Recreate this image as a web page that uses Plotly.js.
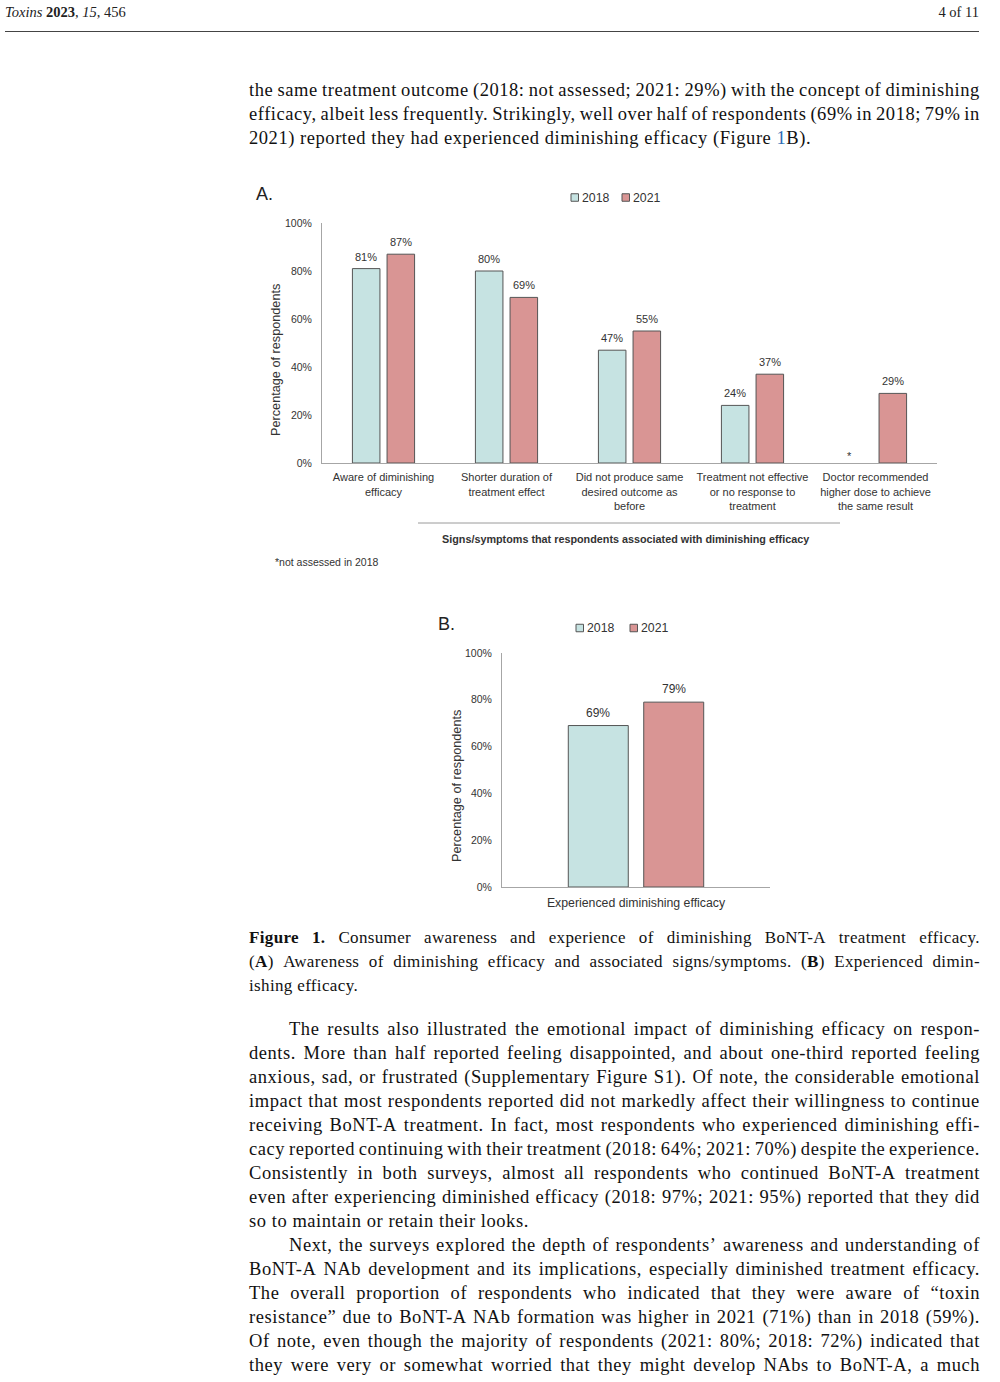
<!DOCTYPE html>
<html><head><meta charset="utf-8">
<script src="https://cdn.plot.ly/plotly-3.0.1.min.js"></script>
<style>
html,body{margin:0;padding:0;width:1000px;height:1382px;overflow:hidden;background:#fff;}
#chart{position:absolute;left:0;top:0;width:1000px;height:1382px;}
.ln{position:absolute;height:24px;line-height:24px;font-family:'Liberation Serif','Times New Roman',serif;font-size:18.5px;letter-spacing:0.55px;color:#111;white-space:nowrap;}
.cap{font-size:17px;letter-spacing:0.35px;}
.j{display:flex;justify-content:space-between;}
.blue{color:#2f6db5;}
.hdr{position:absolute;top:2px;height:20px;line-height:20px;font-family:'Liberation Serif','Times New Roman',serif;font-size:14.5px;color:#222;white-space:nowrap;}
.rule{position:absolute;left:5px;top:31px;width:974px;height:1.3px;background:#444;}
</style></head><body>
<div id="chart"></div>
<div class="hdr" style="left:5px;"><i>Toxins</i> <b>2023</b>, <i>15</i>, 456</div>
<div class="hdr" style="right:21px;">4 of 11</div>
<div class="rule"></div>
<script>
// ---------- chart data ----------
const categoriesA = [
  'Aware of diminishing<br>efficacy',
  'Shorter duration of<br>treatment effect',
  'Did not produce same<br>desired outcome as<br>before',
  'Treatment not effective<br>or no response to<br>treatment',
  'Doctor recommended<br>higher dose to achieve<br>the same result'
];
const values2018A = [81, 80, 47, 24, null];
const values2021A = [87, 69, 55, 37, 29];
const categoriesB = ['Experienced diminishing efficacy'];
const values2018B = [69];
const values2021B = [79];
const seriesNames = ['2018', '2021'];
const yTickVals = [0, 20, 40, 60, 80, 100];
const yTickText = ['0%', '20%', '40%', '60%', '80%', '100%'];
const yTitle = 'Percentage of respondents';
const xTitleA = 'Signs/symptoms that respondents associated with diminishing efficacy';
const footnoteA = '*not assessed in 2018';

// ---------- page text ----------
const textLines = [
  {y:91,  t:"the same treatment outcome (2018: not assessed; 2021: 29%) with the concept of diminishing", j:true},
  {y:115, t:"efficacy, albeit less frequently. Strikingly, well over half of respondents (69% in 2018; 79% in", j:true},
  {y:139, t:"2021) reported they had experienced diminishing efficacy (Figure <span class='blue'>1</span>B).", j:false},
  {y:939, t:"<b>Figure</b> <b>1.</b> Consumer awareness and experience of diminishing BoNT-A treatment efficacy.", j:true, cap:true},
  {y:963, t:"(<b>A</b>) Awareness of diminishing efficacy and associated signs/symptoms. (<b>B</b>) Experienced dimin-", j:true, cap:true},
  {y:987, t:"ishing efficacy.", j:false, cap:true},
  {y:1030, t:"The results also illustrated the emotional impact of diminishing efficacy on respon-", j:true, ind:true},
  {y:1054, t:"dents. More than half reported feeling disappointed, and about one-third reported feeling", j:true},
  {y:1078, t:"anxious, sad, or frustrated (Supplementary Figure S1). Of note, the considerable emotional", j:true},
  {y:1102, t:"impact that most respondents reported did not markedly affect their willingness to continue", j:true},
  {y:1126, t:"receiving BoNT-A treatment. In fact, most respondents who experienced diminishing effi-", j:true},
  {y:1150, t:"cacy reported continuing with their treatment (2018: 64%; 2021: 70%) despite the experience.", j:true},
  {y:1174, t:"Consistently in both surveys, almost all respondents who continued BoNT-A treatment", j:true},
  {y:1198, t:"even after experiencing diminished efficacy (2018: 97%; 2021: 95%) reported that they did", j:true},
  {y:1222, t:"so to maintain or retain their looks.", j:false},
  {y:1246, t:"Next, the surveys explored the depth of respondents\u2019 awareness and understanding of", j:true, ind:true},
  {y:1270, t:"BoNT-A NAb development and its implications, especially diminished treatment efficacy.", j:true},
  {y:1294, t:"The overall proportion of respondents who indicated that they were aware of \u201ctoxin", j:true},
  {y:1318, t:"resistance\u201d due to BoNT-A NAb formation was higher in 2021 (71%) than in 2018 (59%).", j:true},
  {y:1342, t:"Of note, even though the majority of respondents (2021: 80%; 2018: 72%) indicated that", j:true},
  {y:1366, t:"they were very or somewhat worried that they might develop NAbs to BoNT-A, a much", j:true}
];
textLines.forEach(L => {
  const d = document.createElement('div');
  d.className = 'ln' + (L.j ? ' j' : '') + (L.cap ? ' cap' : '');
  const left = L.ind ? 289 : 249;
  d.style.left = left + 'px';
  d.style.width = (980 - left) + 'px';
  d.style.top = (L.y - 13) + 'px';
  if (L.j) {
    L.t.split(/ (?![^<]*>)/).forEach(w => {
      const s = document.createElement('span');
      s.innerHTML = w;
      d.appendChild(s);
    });
  } else {
    d.innerHTML = L.t;
  }
  document.body.appendChild(d);
});

// ---------- chart ----------
const W = 1000, H = 1382;
const fx = p => p / W, fy = p => 1 - p / H;
const FONT = 'Liberation Sans, Arial, sans-serif';
const TXT = '#333333';
const C2018 = '#c6e3e2', C2021 = '#d99594', EDGE = '#555555', AXIS = '#a6a6a6';

function barTrace(x, y, color, name, xa, ya) {
  return {type:'bar', x:x, y:y, name:name, xaxis:xa, yaxis:ya, showlegend:false,
    marker:{color:color, line:{color:EDGE, width:1}}, hoverinfo:'skip'};
}
const data = [
  barTrace(categoriesA, values2018A, C2018, seriesNames[0], 'x', 'y'),
  barTrace(categoriesA, values2021A, C2021, seriesNames[1], 'x', 'y'),
  barTrace(categoriesB, values2018B, C2018, seriesNames[0], 'x2', 'y2'),
  barTrace(categoriesB, values2021B, C2021, seriesNames[1], 'x2', 'y2')
];

const annotations = [];
const OFF_A = 17.3, OFF_B = 37.7;
function addLabels(vals, xref, yref, shift, size, ys) {
  vals.forEach((v, i) => {
    if (v === null) return;
    annotations.push({x:i, y:v, xref:xref, yref:yref, text:v + '%', showarrow:false,
      xshift:shift, yshift:ys, yanchor:'bottom', xanchor:'center', borderpad:0,
      font:{family:FONT, size:size, color:TXT}});
  });
}
addLabels(values2018A, 'x', 'y', -OFF_A, 11, 5);
addLabels(values2021A, 'x', 'y', OFF_A, 11, 5);
addLabels(values2018B, 'x2', 'y2', -OFF_B, 12, 5);
addLabels(values2021B, 'x2', 'y2', OFF_B, 12, 5);
// asterisk for the missing 2018 value
values2018A.forEach((v, i) => {
  if (v === null) annotations.push({x:i, y:0, xref:'x', yref:'y', text:'*', showarrow:false,
    xshift:-26.5, yshift:0.5, yanchor:'bottom', borderpad:0, font:{family:FONT, size:11, color:TXT}});
});

function paperText(x, y, text, size, opts) {
  annotations.push(Object.assign({x:fx(x), y:fy(y), xref:'paper', yref:'paper', text:text,
    showarrow:false, xanchor:'center', yanchor:'middle', borderpad:0,
    font:{family:FONT, size:size, color:TXT}}, opts || {}));
}
paperText(264.5, 194, 'A.', 18, {font:{family:FONT, size:18, color:'#222'}});
paperText(446.5, 624, 'B.', 18, {font:{family:FONT, size:18, color:'#222'}});
paperText(276, 360, yTitle, 12.7, {textangle:-90});
paperText(457, 786, yTitle, 12.7, {textangle:-90});
paperText(625, 538.5, '<b>' + xTitleA + '</b>', 10.8);
paperText(274, 562, footnoteA, 10.5, {xanchor:'left'});

// manual legends
const shapes = [];
function legend(xs, y, size) {
  [C2018, C2021].forEach((c, k) => {
    shapes.push({type:'rect', xref:'paper', yref:'paper', x0:fx(xs[k]), x1:fx(xs[k] + 7.5),
      y0:fy(y + 3.75), y1:fy(y - 3.75), fillcolor:c, line:{color:EDGE, width:1}});
    paperText(xs[k] + 9.5, y, seriesNames[k], size, {xanchor:'left'});
  });
}
legend([571, 622], 197.5, 12.3);
legend([576, 630], 628, 12.3);
// rule above the x title of panel A
shapes.push({type:'line', xref:'paper', yref:'paper', x0:fx(418), x1:fx(840), y0:fy(523), y1:fy(523),
  line:{color:'#9a9a9a', width:1}});

function xAxis(dom, rng, anchor, size, standoff) {
  return {domain:dom, range:rng, type:'category', anchor:anchor, showline:true, linecolor:AXIS,
    linewidth:1, ticks:'', showgrid:false, zeroline:false, fixedrange:true,
    ticklabelstandoff:standoff, tickfont:{family:FONT, size:size, color:TXT}};
}
function yAxis(dom, anchor) {
  return {domain:dom, range:[0, 100], anchor:anchor, tickvals:yTickVals, ticktext:yTickText,
    showline:true, linecolor:AXIS, linewidth:1, ticks:'', showgrid:false, zeroline:false,
    fixedrange:true, ticklabelstandoff:7, tickfont:{family:FONT, size:10.5, color:TXT}};
}

const layout = {
  width:W, height:H, margin:{l:0, r:0, t:0, b:0},
  paper_bgcolor:'rgba(0,0,0,0)', plot_bgcolor:'rgba(0,0,0,0)',
  showlegend:false, barmode:'group', bargap:0.437, bargroupgap:0.205,
  font:{family:FONT, color:TXT},
  xaxis:xAxis([fx(322), fx(937)], [-0.5, 4.5], 'y', 11, 4),
  yaxis:yAxis([fy(463), fy(223)], 'x'),
  xaxis2:xAxis([fx(502), fx(770)], [-0.5, 0.5], 'y2', 12.3, 4),
  yaxis2:yAxis([fy(887), fy(653)], 'x2'),
  annotations:annotations, shapes:shapes
};
Plotly.newPlot('chart', data, layout, {staticPlot:true, displayModeBar:false});
</script>
</body></html>
